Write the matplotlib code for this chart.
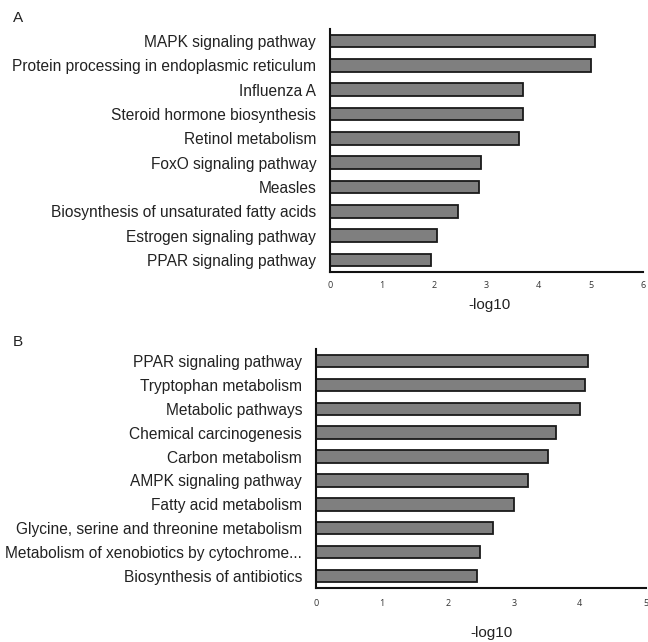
import matplotlib
matplotlib.use("Agg")
import matplotlib.pyplot as plt

plt.rcParams['font.family'] = ['Liberation Sans', 'DejaVu Sans']

# panel A data
pathways_a = ['MAPK signaling pathway', 'Protein processing in endoplasmic reticulum',
              'Influenza A', 'Steroid hormone biosynthesis', 'Retinol metabolism',
              'FoxO signaling pathway', 'Measles', 'Biosynthesis of unsaturated fatty acids',
              'Estrogen signaling pathway', 'PPAR signaling pathway']
values_a = [5.08, 5.01, 3.70, 3.70, 3.63, 2.90, 2.85, 2.45, 2.06, 1.93]
ticks_a = [0, 1, 2, 3, 4, 5, 6]

# panel B data
pathways_b = ['PPAR signaling pathway', 'Tryptophan metabolism', 'Metabolic pathways',
              'Chemical carcinogenesis', 'Carbon metabolism', 'AMPK signaling pathway',
              'Fatty acid metabolism', 'Glycine, serine and threonine metabolism',
              'Metabolism of xenobiotics by cytochrome...', 'Biosynthesis of antibiotics']
values_b = [4.12, 4.08, 4.01, 3.64, 3.52, 3.22, 3.00, 2.69, 2.49, 2.45]
ticks_b = [0, 1, 2, 3, 4, 5]

fig = plt.figure(figsize=(6.48, 6.42), dpi=100)

panels = [
    ('A', pathways_a, values_a, ticks_a, [0.5093, 0.5763, 0.483, 0.3785], (0.511, -0.107), 6.5, 0.020, 0.972),
    ('B', pathways_b, values_b, ticks_b, [0.4877, 0.0841, 0.5085, 0.3723], (0.532, -0.159), 8.0, 0.020, 0.468),
]

for letter, names, vals, ticks, rect, lab_xy, xpad, lx, ly in panels:
    ax = fig.add_axes(rect)
    ypos = list(range(len(names)))
    ax.barh(ypos, vals, height=0.52, color='#7f7f7f', edgecolor='#1a1a1a', linewidth=1.3)
    ax.set_ylim(len(names) - 0.5, -0.5)
    ax.set_xlim(ticks[0], ticks[-1])
    ax.set_yticks(ypos)
    ax.set_yticklabels(names, fontsize=11.2, color='#222222')
    ax.set_xticks(ticks)
    ax.set_xticklabels([str(t) for t in ticks], fontsize=6.5, color='#333333', family='Open Sans')
    ax.tick_params(axis='y', length=0, pad=10)
    ax.tick_params(axis='x', length=0, pad=xpad)
    for side in ['top', 'right']:
        ax.spines[side].set_visible(False)
    for side in ['left', 'bottom']:
        ax.spines[side].set_linewidth(1.5)
        ax.spines[side].set_color('#111111')
    ax.set_xlabel('-log10', fontsize=11, color='#222222')
    ax.xaxis.set_label_coords(*lab_xy)
    fig.text(lx, ly, letter, fontsize=11, color='#222222', va='center', ha='left')

fig.savefig('out.png', dpi=100)
